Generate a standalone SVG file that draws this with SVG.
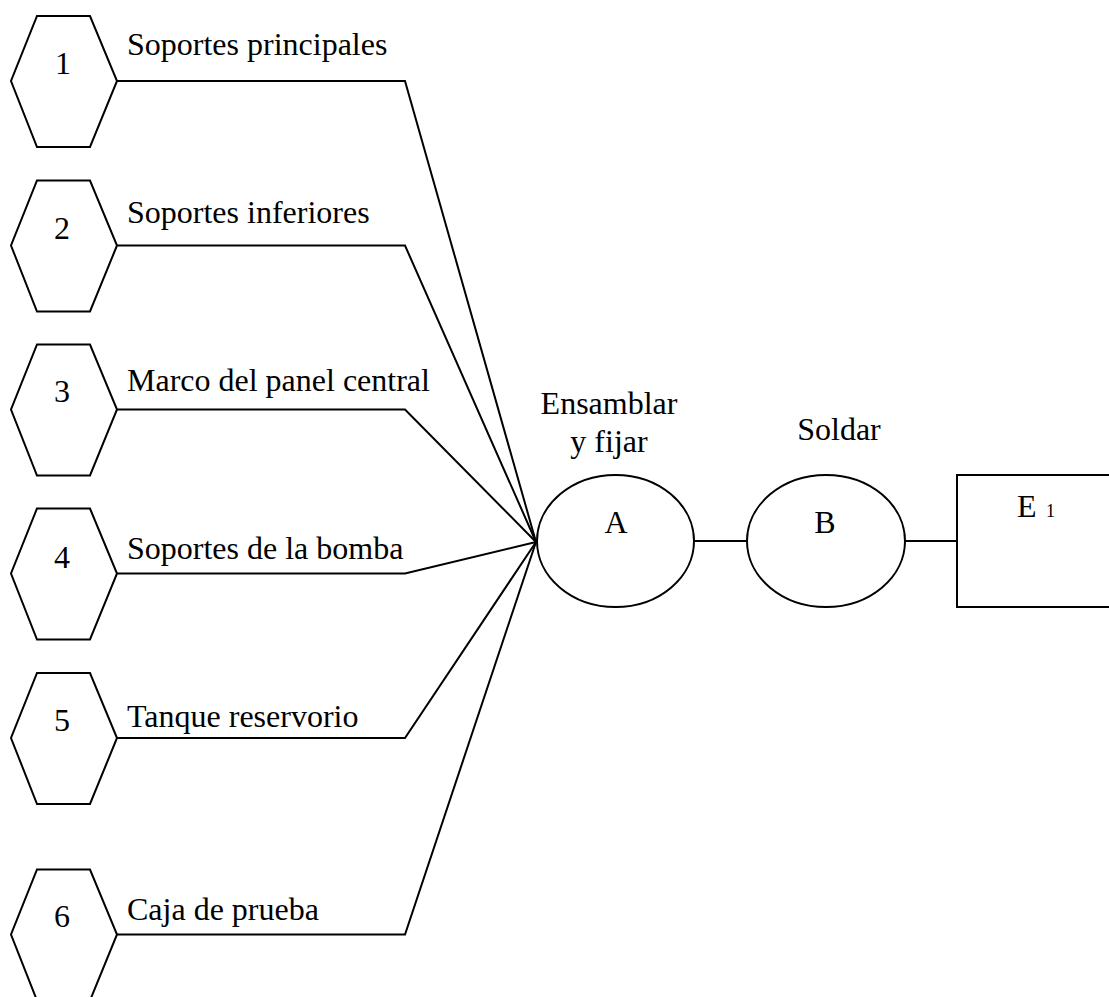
<svg xmlns="http://www.w3.org/2000/svg" width="1109" height="997" viewBox="0 0 1109 997">
  <style>
    .shape { fill: #ffffff; stroke: #000000; stroke-width: 2; }
    .wire { fill: none; stroke: #000000; stroke-width: 2; stroke-linejoin: miter; }
    text { font-family: "Liberation Serif", "Times New Roman", serif; font-size: 32px; fill: #000000; }
    .num { text-anchor: middle; }
    .mid { text-anchor: middle; }
    .sub { font-size: 18px; }
  </style>
  <defs>
    <!-- input part hexagon, right vertex at (117,0) -->
    <polygon id="hex" points="37,-65 90,-65 117,0 90,66 37,66 11,0"/>
  </defs>
  <rect width="1109" height="997" fill="#ffffff"/>

  <!-- connectors -->
  <g id="connectors">
    <polyline class="wire" points="117,81 405,81 536,542"/>
    <polyline class="wire" points="117,245.5 405,245.5 536,542"/>
    <polyline class="wire" points="117,409.5 405,409.5 536,542"/>
    <polyline class="wire" points="117,573.5 405,573.5 536,542"/>
    <polyline class="wire" points="117,738 405,738 536,542"/>
    <polyline class="wire" points="117,934.5 405,934.5 536,542"/>
    <line class="wire" x1="694" y1="541" x2="747" y2="541"/>
    <line class="wire" x1="905" y1="541" x2="957" y2="541"/>
  </g>

  <!-- parts -->
  <g id="part1">
    <use href="#hex" class="shape" x="0" y="81"/>
    <text class="num" x="63" y="74">1</text>
    <text x="127" y="55">Soportes principales</text>
  </g>
  <g id="part2">
    <use href="#hex" class="shape" x="0" y="245.5"/>
    <text class="num" x="62" y="239">2</text>
    <text x="127" y="223">Soportes inferiores</text>
  </g>
  <g id="part3">
    <use href="#hex" class="shape" x="0" y="409.5"/>
    <text class="num" x="62" y="402">3</text>
    <text x="127" y="391">Marco del panel central</text>
  </g>
  <g id="part4">
    <use href="#hex" class="shape" x="0" y="573.5"/>
    <text class="num" x="62" y="568">4</text>
    <text x="127" y="559">Soportes de la bomba</text>
  </g>
  <g id="part5">
    <use href="#hex" class="shape" x="0" y="738"/>
    <text class="num" x="62" y="731">5</text>
    <text x="127" y="727">Tanque reservorio</text>
  </g>
  <g id="part6">
    <use href="#hex" class="shape" x="0" y="934.5"/>
    <text class="num" x="62" y="927">6</text>
    <text x="127" y="920">Caja de prueba</text>
  </g>

  <!-- operations -->
  <g id="opA">
    <ellipse class="shape" cx="615.5" cy="541" rx="78.5" ry="66"/>
    <text class="mid" x="616" y="533">A</text>
    <text class="mid" x="609" y="414">Ensamblar</text>
    <text class="mid" x="609" y="452">y fijar</text>
  </g>
  <g id="opB">
    <ellipse class="shape" cx="826" cy="541" rx="79" ry="66"/>
    <text class="mid" x="825" y="533">B</text>
    <text class="mid" x="839" y="440">Soldar</text>
  </g>

  <!-- result -->
  <g id="productE1">
    <rect class="shape" x="957" y="475" width="160" height="132"/>
    <text x="1017" y="517">E</text>
    <text class="sub" x="1046" y="517">1</text>
  </g>
</svg>
